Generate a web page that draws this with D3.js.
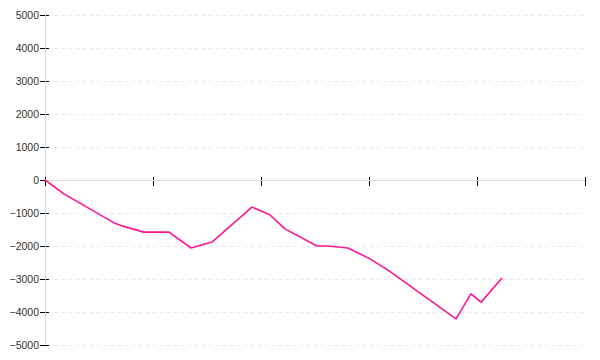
<!DOCTYPE html>
<html>
<head>
<meta charset="utf-8">
<script src="https://cdn.jsdelivr.net/npm/d3@7"></script>
<style>
  body { margin: 0; background: #fff; }
  svg { display: block; }
</style>
</head>
<body>
<div id="chart"></div>
<script>
// position along the x axis (5 units per tick) and running total
const steps = [0, 0.88, 3.2, 3.56, 4.58, 5.74, 6.76, 7.73, 9.58, 10.42, 11.11, 12.59, 13.1, 14.03, 15.05, 15.88, 19.03, 19.72, 20.19, 21.16];
const totals = [0, -420, -1300, -1390, -1580, -1580, -2060, -1880, -820, -1060, -1480, -2000, -2000, -2060, -2390, -2730, -4210, -3450, -3700, -2970];
const yTicks = [-5000, -4000, -3000, -2000, -1000, 0, 1000, 2000, 3000, 4000, 5000];
const xTicks = [0, 5, 10, 15, 20, 25];

const width = 600, height = 360;
const margin = {top: 15, right: 15, bottom: 15, left: 45};

const svg = d3.select("#chart").append("svg").attr("width", width).attr("height", height);

const x = d3.scaleLinear().domain([0, 25]).range([margin.left, width - margin.right]);
const y = d3.scaleLinear().domain([-5000, 5000]).range([height - margin.bottom, margin.top]);

// dashed grid
svg.append("g")
    .selectAll("line")
    .data(yTicks.filter(d => d !== 0))
    .join("line")
    .attr("x1", margin.left + 10)
    .attr("x2", width - margin.right)
    .attr("y1", d => Math.round(y(d)) + 0.5)
    .attr("y2", d => Math.round(y(d)) + 0.5)
    .attr("stroke", "#e8e8e8")
    .attr("stroke-dasharray", "3,4");

// y axis: ticks cross the axis line (d3 adds the half pixel itself)
const yAxis = svg.append("g")
    .attr("transform", `translate(${margin.left},0)`)
    .call(d3.axisLeft(y).tickValues(yTicks).tickSize(5).tickPadding(1).tickFormat(d3.format("d")));
yAxis.select(".domain").remove();
yAxis.selectAll(".tick line").attr("x1", 4).attr("x2", -5).attr("stroke", "#000");
yAxis.selectAll(".tick text")
    .attr("fill", "#333")
    .style("font-family", "'Liberation Sans', Arial, sans-serif")
    .style("font-size", "10.5px");

svg.append("line")
    .attr("x1", margin.left + 0.5).attr("x2", margin.left + 0.5)
    .attr("y1", y(5000)).attr("y2", y(-5000))
    .attr("stroke", "#ddd");

// x axis along zero
const xAxis = svg.append("g")
    .attr("transform", `translate(0,${Math.round(y(0))})`)
    .call(d3.axisBottom(x).tickValues(xTicks).tickSize(6).tickFormat(""));
xAxis.select(".domain").remove();
xAxis.selectAll(".tick line").attr("y1", -3).attr("y2", 6).attr("stroke", "#000");

svg.append("line")
    .attr("x1", x(0)).attr("x2", x(25))
    .attr("y1", Math.round(y(0)) + 0.5).attr("y2", Math.round(y(0)) + 0.5)
    .attr("stroke", "#ddd");

const line = d3.line()
    .x((d, i) => x(steps[i]))
    .y(d => y(d));

svg.append("path")
    .datum(totals)
    .attr("fill", "none")
    .attr("stroke", "#ff1493")
    .attr("stroke-width", 1.6)
    .attr("stroke-linejoin", "round")
    .attr("d", line);
</script>
</body>
</html>
